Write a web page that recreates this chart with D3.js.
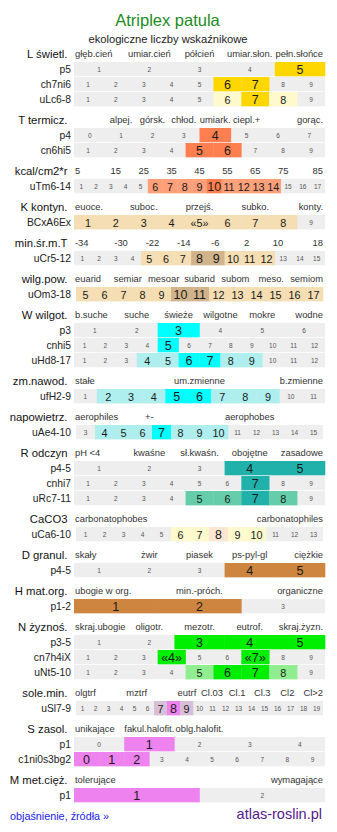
<!DOCTYPE html>
<html><head><meta charset="utf-8">
<script src="https://cdn.jsdelivr.net/npm/d3@7"></script>
<style>
body{margin:0;background:#fff}
svg{display:block}
text{font-family:"Liberation Sans",Arial,Helvetica,sans-serif}
</style>
</head><body>
<svg id="c" width="337" height="832"></svg>
<script>
// ---------- DATA ----------
const title = "Atriplex patula";
const subtitle = "ekologiczne liczby wskaźnikowe";

// header category labels (one slot each, "" = empty slot)
const hdrL = ["głęb.cień","umiar.cień","półcień","umiar.słon.","pełn.słońce"];
const hdrT = ["","alpej.","górsk.","chłod.","umiark.","ciepl.+","","gorąc."];
const hdrKcal = ["5","15","25","35","45","55","65","75","85"];
const hdrK = ["euoce.","","suboc.","","przejś.","","subko.","","konty."];
const hdrMinT = ["-34","-30","-22","-14","-6","2","10","18"];
const hdrWilg = ["euarid","semiar","mesoar","subarid","subom","meso.","semiom"];
const hdrW = ["b.suche","suche","świeże","wilgotne","mokre","wodne"];
const hdrZm = ["stałe","um.zmienne","b.zmienne"];
const hdrNap = ["aerophiles","+-","","aerophobes",""];
const hdrR = ["pH <4","kwaśne","sł.kwaśn.","obojętne","zasadowe"];
const hdrCa = ["carbonatophobes","carbonatophiles"];
const hdrD = ["skały","żwir","piasek","ps-pyl-gl","ciężkie"];
const hdrH = ["ubogie w org.","min.-próch.","organiczne"];
const hdrN = ["skraj.ubogie","oligotr.","mezotr.","eutrof.","skraj.żyzn."];
const hdrSl = ["olgtrf","","mztrf","","eutrf","Cl.03","Cl.1","Cl.3","Cl2","Cl>2"];
const hdrS = ["unikające","fakul.halofit.","oblg.halofit.","",""];
const hdrM = ["tolerujące","wymagające"];

// indicator rows: scale min..max, range (light), core (dark), marked values
const rowsL = [
  {id:"p5", min:1, max:5, core:[5]},
  {id:"ch7ni6", min:1, max:9, core:[6,7]},
  {id:"uLc6-8", min:1, max:9, range:[6,8], core:[7]}
];
const rowsT = [
  {id:"p4", min:0, max:7, core:[4]},
  {id:"cn6hi5", min:1, max:9, core:[5,6]}
];
const rowsKcal = [{id:"uTm6-14", min:1, max:17, range:[6,14], core:[10]}];
const rowsK = [{id:"BCxA6Ex", min:1, max:9, range:[1,8], core:[], marked:[5]}];
const rowsMinT = [{id:"uCr5-12", min:1, max:15, range:[5,12], core:[8,9]}];
const rowsWilg = [{id:"uOm3-18", min:5, max:17, range:[5,17], core:[10,11]}];
const rowsW = [
  {id:"p3", min:1, max:6, core:[3]},
  {id:"cnhi5", min:1, max:12, core:[5]},
  {id:"uHd8-17", min:1, max:12, range:[4,9], core:[6,7]}
];
const rowsZm = [{id:"ufH2-9", min:1, max:11, range:[2,9], core:[5,6]}];
const rowsNap = [{id:"uAe4-10", min:3, max:15, range:[4,10], core:[7]}];
const rowsR = [
  {id:"p4-5", min:1, max:5, core:[4,5]},
  {id:"cnhi7", min:1, max:9, core:[7]},
  {id:"uRc7-11", min:1, max:9, range:[5,8], core:[7]}
];
const rowsCa = [{id:"uCa6-10", min:1, max:13, range:[6,10], core:[8]}];
const rowsD = [{id:"p4-5", min:1, max:5, core:[4,5]}];
const rowsH = [{id:"p1-2", min:1, max:3, core:[1,2]}];
const rowsN = [
  {id:"p3-5", min:1, max:5, core:[3,4,5]},
  {id:"cn7h4iX", min:1, max:9, core:[4,7], marked:[4,7]},
  {id:"uNt5-10", min:1, max:9, range:[5,8], core:[6,7]}
];
const rowsSl = [{id:"uSl7-9", min:1, max:19, range:[7,9], core:[8]}];
const rowsS = [
  {id:"p1", min:0, max:4, core:[1]},
  {id:"c1ni0s3bg2", min:0, max:9, core:[0,1,2]}
];
const rowsM = [{id:"p1", min:1, max:2, core:[1]}];

// ---------- STYLE ----------
const pal = {
  yellow:{core:"#ffd700", range:"#fffacd"},
  orange:{core:"#ff7f50", range:"#ffa07a"},
  tan:{core:"#d2b48c", range:"#f5deb3"},
  cyan:{core:"#00ffff", range:"#afeeee"},
  teal:{core:"#20b2aa", range:"#66cdaa"},
  ca:{core:"#fde6d2", range:"#fffacd"},
  brown:{core:"#cd853f", range:"#deb887"},
  green:{core:"#00ee00", range:"#90ee90"},
  violet:{core:"#ee82ee", range:"#d8bfd8"}
};

const sections = [
  {name:"L świetl.", hdr:hdrL, rows:rowsL, pal:"yellow"},
  {name:"T termicz.", hdr:hdrT, rows:rowsT, pal:"orange"},
  {name:"kcal/cm2*r", hdr:hdrKcal, rows:rowsKcal, pal:"orange"},
  {name:"K kontyn.", hdr:hdrK, rows:rowsK, pal:"tan"},
  {name:"min.śr.m.T", hdr:hdrMinT, rows:rowsMinT, pal:"tan"},
  {name:"wilg.pow.", hdr:hdrWilg, rows:rowsWilg, pal:"tan"},
  {name:"W wilgot.", hdr:hdrW, rows:rowsW, pal:"cyan"},
  {name:"zm.nawod.", hdr:hdrZm, rows:rowsZm, pal:"cyan"},
  {name:"napowietrz.", hdr:hdrNap, rows:rowsNap, pal:"cyan"},
  {name:"R odczyn", hdr:hdrR, rows:rowsR, pal:"teal"},
  {name:"CaCO3", hdr:hdrCa, rows:rowsCa, pal:"ca"},
  {name:"D granul.", hdr:hdrD, rows:rowsD, pal:"brown"},
  {name:"H mat.org.", hdr:hdrH, rows:rowsH, pal:"brown"},
  {name:"N żyznoś.", hdr:hdrN, rows:rowsN, pal:"green"},
  {name:"sole.min.", hdr:hdrSl, rows:rowsSl, pal:"violet"},
  {name:"S zasol.", hdr:hdrS, rows:rowsS, pal:"violet"},
  {name:"M met.cięż.", hdr:hdrM, rows:rowsM, pal:"violet"}
];
const insetRows = {"uOm3-18":2, "uAe4-10":2, "uCa6-10":2, "uSl7-9":2};

// ---------- DRAW ----------
const X0 = 74, X1 = 325, PITCH = 15, ROWH = 14.3, GAP = 21;
const svg = d3.select("#c");

svg.append("text").attr("x",167.5).attr("y",20).attr("text-anchor","middle")
  .attr("dominant-baseline","central").attr("font-size",16.5).attr("fill","#1e8c1e").text(title);
svg.append("text").attr("x",168).attr("y",38.5).attr("text-anchor","middle")
  .attr("dominant-baseline","central").attr("font-size",11.2).attr("fill","#222").text(subtitle);

let cursor = 62;
sections.forEach((s, si) => {
  if (si > 0) cursor += GAP;
  const hy = cursor - 8.5;
  svg.append("text").attr("x",67.5).attr("y",hy).attr("text-anchor","end")
    .attr("dominant-baseline","central").attr("font-size",11.3).attr("fill","#111").text(s.name);
  const hb = d3.scaleBand().domain(d3.range(s.hdr.length)).range([X0, X1]);
  const n = s.hdr.length;
  svg.append("g").selectAll("text").data(s.hdr.map((t,i)=>({t,i}))).join("text")
    .attr("x", d => d.i === 0 ? X0 + 1 : d.i === n-1 ? X1 - 2 : hb(d.i) + hb.bandwidth()/2)
    .attr("text-anchor", d => d.i === 0 ? "start" : d.i === n-1 ? "end" : "middle")
    .attr("y", hy).attr("dominant-baseline","central")
    .attr("font-size",9.4).attr("fill","#333").text(d => d.t);

  const p = pal[s.pal];
  s.rows.forEach(r => {
    const y = cursor;
    const ins = insetRows[r.id] || 0;
    const vals = d3.range(r.min, r.max + 1);
    const x = d3.scaleBand().domain(vals).range([X0 + ins, X1 - ins]);
    const g = svg.append("g");
    g.append("text").attr("x",71).attr("y",y + ROWH/2).attr("text-anchor","end")
      .attr("dominant-baseline","central").attr("font-size",10.3).attr("fill","#222").text(r.id);
    g.append("rect").attr("x",x.range()[0]).attr("y",y).attr("width",x.range()[1]-x.range()[0])
      .attr("height",ROWH).attr("fill","#eeeeee");
    const level = v => (r.core||[]).includes(v) ? "core" :
      (r.range && v >= r.range[0] && v <= r.range[1]) ? "range" : "none";
    const cells = vals.map(v => ({v, lv: level(v)}));
    g.selectAll("rect.c").data(cells.filter(d => d.lv !== "none")).join("rect")
      .attr("class","c").attr("x", d => x(d.v)).attr("y", y)
      .attr("width", x.bandwidth() + 0.3).attr("height", ROWH)
      .attr("fill", d => p[d.lv]);
    g.selectAll("text.v").data(cells).join("text").attr("class","v")
      .attr("x", d => x(d.v) + x.bandwidth()/2).attr("y", y + ROWH/2 + 0.5)
      .attr("text-anchor","middle").attr("dominant-baseline","central")
      .attr("font-size", d => d.lv === "core" ? 12.5 : d.lv === "range" ? 10.8 : 6.5)
      .attr("fill", d => d.lv === "none" ? "#555" : "#1a1a1a")
      .text(d => (r.marked||[]).includes(d.v) ? "«" + d.v + "»" : d.v);
    cursor += PITCH;
  });
});

svg.append("text").attr("x",10).attr("y",816).attr("dominant-baseline","central")
  .attr("font-size",10.8).attr("fill","#2222ee").text("objaśnienie, źródła »");
svg.append("text").attr("x",322).attr("y",814).attr("text-anchor","end").attr("dominant-baseline","central")
  .attr("font-size",14.5).attr("fill","#561a8b").text("atlas-roslin.pl");
</script>
</body></html>
